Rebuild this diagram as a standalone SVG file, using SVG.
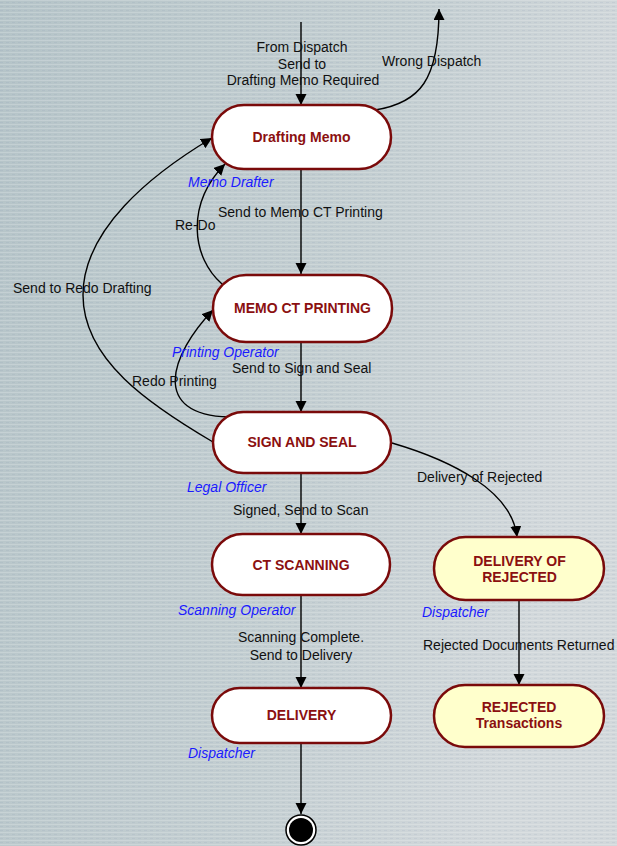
<svg xmlns="http://www.w3.org/2000/svg" width="617" height="846" viewBox="0 0 617 846">
  <defs>
    <linearGradient id="bg" x1="0" y1="0" x2="1" y2="0.3">
      <stop offset="0" stop-color="#b5c4c8"/>
      <stop offset="0.6" stop-color="#c3ced1"/>
      <stop offset="1" stop-color="#d2d8db"/>
    </linearGradient>
    <pattern id="stripes" width="6" height="4" patternUnits="userSpaceOnUse">
      <rect x="0" y="0" width="6" height="1" fill="#ffffff" opacity="0.18"/>
      <rect x="0" y="2" width="3" height="1" fill="#7f8fb0" opacity="0.12"/>
    </pattern>
    <marker id="arrow" markerWidth="12" markerHeight="12" refX="11" refY="5.5" orient="auto" markerUnits="userSpaceOnUse">
      <path d="M0,0 L11,5.5 L0,11 Z" fill="#000"/>
    </marker>
    <style>
      .node { stroke: #7a0a0a; stroke-width: 2.5; }
      .white { fill: #ffffff; }
      .yellow { fill: #ffffcc; }
      .title { font-family: "Liberation Sans", Arial, sans-serif; font-size: 14px; font-weight: bold; fill: #8b1010; text-anchor: middle; }
      .lbl { font-family: "Liberation Sans", Arial, sans-serif; font-size: 14px; fill: #111; }
      .mid { text-anchor: middle; }
      .role { font-family: "Liberation Sans", Arial, sans-serif; font-size: 14px; font-style: italic; fill: #1a1aff; }
      .edge { fill: none; stroke: #000; stroke-width: 1.4; marker-end: url(#arrow); }
    </style>
  </defs>

  <!-- textured backdrop -->
  <rect width="617" height="846" fill="url(#bg)"/>
  <rect width="617" height="846" fill="url(#stripes)"/>

  <!-- connectors -->
  <g id="connectors">
    <path class="edge" d="M301,22 L301,105"/>
    <path class="edge" d="M375,110 C420,103 439,80 439,9"/>
    <path class="edge" d="M301,169 L301,274"/>
    <path class="edge" d="M222,284 C192,258 185,205 225,164"/>
    <path class="edge" d="M213,442 C150,405 83,360 83,295 C83,230 150,175 212,138"/>
    <path class="edge" d="M229,417 C150,415 170,355 213,310"/>
    <path class="edge" d="M301,342 L301,412"/>
    <path class="edge" d="M301,473 L301,534"/>
    <path class="edge" d="M392,443 C450,460 512,490 517,537"/>
    <path class="edge" d="M301,595 L301,688"/>
    <path class="edge" d="M519,600 L519,685"/>
    <path class="edge" d="M301,743 L301,814"/>
  </g>

  <!-- connector labels -->
  <g id="edge-labels">
    <text class="lbl mid" x="302" y="52">From Dispatch</text>
    <text class="lbl mid" x="302" y="69">Send to</text>
    <text class="lbl mid" x="303" y="85">Drafting Memo Required</text>
    <text class="lbl" x="382" y="66">Wrong Dispatch</text>
    <text class="lbl" x="218" y="217">Send to Memo CT Printing</text>
    <text class="lbl" x="175" y="230">Re-Do</text>
    <text class="lbl" x="13" y="293">Send to Redo Drafting</text>
    <text class="lbl" x="232" y="373">Send to Sign and Seal</text>
    <text class="lbl" x="132" y="386">Redo Printing</text>
    <text class="lbl" x="417" y="482">Delivery of Rejected</text>
    <text class="lbl" x="233" y="515">Signed, Send to Scan</text>
    <text class="lbl mid" x="301" y="642">Scanning Complete.</text>
    <text class="lbl mid" x="301" y="660">Send to Delivery</text>
    <text class="lbl" x="423" y="650">Rejected Documents Returned</text>
  </g>

  <!-- states -->
  <g id="drafting-memo">
    <rect class="node white" x="212" y="105" width="179" height="64" rx="32"/>
    <text class="title" x="301.5" y="142">Drafting Memo</text>
    <text class="role" x="188" y="187">Memo Drafter</text>
  </g>
  <g id="memo-ct-printing">
    <rect class="node white" x="213" y="275" width="179" height="67" rx="33"/>
    <text class="title" x="302.5" y="313">MEMO CT PRINTING</text>
    <text class="role" x="172" y="357">Printing Operator</text>
  </g>
  <g id="sign-and-seal">
    <rect class="node white" x="213" y="412" width="178" height="61" rx="30.5"/>
    <text class="title" x="302" y="447">SIGN AND SEAL</text>
    <text class="role" x="187" y="492">Legal Officer</text>
  </g>
  <g id="ct-scanning">
    <rect class="node white" x="212" y="534" width="178" height="61" rx="30.5"/>
    <text class="title" x="301" y="570">CT SCANNING</text>
    <text class="role" x="178" y="615">Scanning Operator</text>
  </g>
  <g id="delivery-of-rejected">
    <rect class="node yellow" x="434" y="537" width="170" height="63" rx="31.5"/>
    <text class="title" x="519.5" y="566">DELIVERY OF</text>
    <text class="title" x="519.5" y="582">REJECTED</text>
    <text class="role" x="422" y="617">Dispatcher</text>
  </g>
  <g id="delivery">
    <rect class="node white" x="212" y="688" width="179" height="55" rx="27.5"/>
    <text class="title" x="301.5" y="720">DELIVERY</text>
    <text class="role" x="188" y="758">Dispatcher</text>
  </g>
  <g id="rejected-transactions">
    <rect class="node yellow" x="434" y="685" width="170" height="62" rx="31"/>
    <text class="title" x="519" y="712">REJECTED</text>
    <text class="title" x="519" y="728">Transactions</text>
  </g>
  <g id="final-state">
    <circle cx="301" cy="830" r="15" fill="#ffffff" stroke="#000" stroke-width="1.5"/>
    <circle cx="301" cy="830" r="12" fill="#000"/>
  </g>
</svg>
